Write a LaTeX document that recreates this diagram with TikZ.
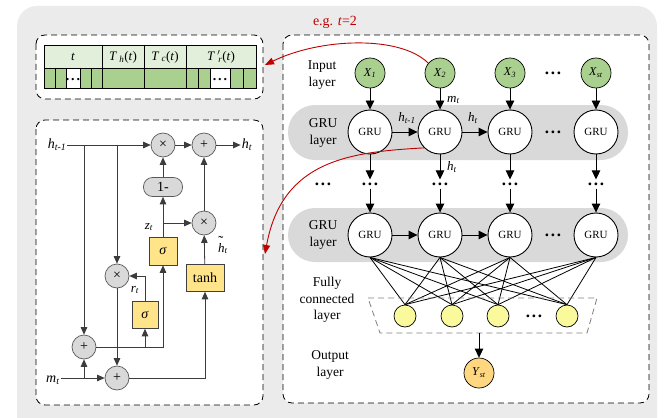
\documentclass[tikz,border=0pt]{standalone}
\usepackage{fontspec}
\setmainfont{Liberation Serif}
\usetikzlibrary{arrows.meta,calc}
\definecolor{bggray}{HTML}{EBEBEB}
\definecolor{bandgray}{HTML}{D9D9D9}
\definecolor{ingreen}{HTML}{A9D08E}
\definecolor{hdrgreen}{HTML}{E2EFDA}
\definecolor{fcyel}{HTML}{FAFA9C}
\definecolor{outor}{HTML}{FFD780}
\definecolor{gateyel}{HTML}{FFE48A}
\definecolor{opfill}{HTML}{D9D9D9}
\definecolor{opgray}{HTML}{5A5A5A}
\definecolor{linegray}{HTML}{3C3C3C}
\definecolor{redc}{HTML}{C00000}
\newcommand\isub[2]{\textit{#1}\textsubscript{\textit{#2}}}
\newcommand\bigdots{\textbf{.\hspace{1.8pt}.\hspace{1.8pt}.}}
\tikzset{
  arr/.style={draw=black, line width=0.9pt, -{Triangle[length=9pt,width=8.5pt]}},
  inc/.style={circle, draw=black, line width=0.7pt, fill=ingreen, minimum size=30pt, inner sep=0pt, font=\fontsize{12}{12}\selectfont},
  gru/.style={circle, draw=black, line width=0.9pt, fill=white, minimum size=44pt, inner sep=0pt, font=\fontsize{11}{11}\selectfont},
  fcn/.style={circle, draw=black, line width=0.7pt, fill=fcyel, minimum size=22pt, inner sep=0pt},
  outn/.style={circle, draw=black, line width=0.7pt, fill=outor, minimum size=30pt, inner sep=0pt, font=\fontsize{12}{12}\selectfont},
  lbl/.style={align=center, font=\fontsize{13.5}{16.5}\selectfont, inner sep=0pt},
  dotsn/.style={inner sep=3pt, font=\fontsize{17}{17}\selectfont},
  band/.style={fill=bandgray, rounded corners=27pt},
  dbox/.style={draw=black, line width=0.8pt, dash pattern=on 6pt off 4pt, fill=white, rounded corners=9pt},
  opn/.style={circle, draw=opgray, fill=opfill, line width=0.7pt, minimum size=24pt, inner sep=0pt, font=\fontsize{14}{14}\selectfont},
  gate/.style={draw=black!75, fill=gateyel, line width=0.6pt, inner sep=0pt, font=\fontsize{14}{14}\selectfont},
  carr/.style={draw=linegray, line width=0.8pt, -{Triangle[length=7.5pt,width=6.5pt]}},
  redarr/.style={draw=redc, line width=0.9pt, -{Triangle[length=9pt,width=7pt]}},
  mlbl/.style={font=\fontsize{13}{13}\selectfont, inner sep=1pt},
  cellt/.style={font=\fontsize{13}{13}\selectfont, inner sep=0pt},
}
\begin{document}
\begin{tikzpicture}[x=1pt,y=-1pt]
\useasboundingbox (0,0) rectangle (668,417);
\begin{scope}
  \clip (0,0) rectangle (668,417);
  \fill[bggray, rounded corners=20pt] (17,6) rectangle (657,440);
\end{scope}

% dashed frames
\draw[dbox] (36,35) rectangle (263,99);
\draw[dbox] (36,120) rectangle (263,405);
\draw[dbox] (283,35) rectangle (649,403);
\coordinate (tabin) at (265,65);
\coordinate (cellin) at (265,254);

% ---------- table ----------
\fill[hdrgreen] (44,45) rectangle (256,68);
\fill[ingreen] (44,68) rectangle (66,88);
\fill[ingreen] (80,68) rectangle (210,88);
\fill[ingreen] (230,68) rectangle (256,88);
\fill[white] (66,68) rectangle (80,88);
\fill[white] (210,68) rectangle (230,88);
\draw[line width=0.8pt] (44,45) rectangle (256,88);
\draw[line width=0.8pt] (44,68) -- (256,68);
\foreach \xx in {102,144,186} \draw[line width=0.8pt] (\xx,45) -- (\xx,88);
\foreach \xx in {55,66,80,91,198,210,230,243} \draw[line width=0.8pt] (\xx,68) -- (\xx,88);
\node[cellt] (ct) at (73,57) {\textit{t}};
\node[cellt] (cth) at (123,57) {\textit{T}\,\textsubscript{\textit{h}}(\textit{t})};
\node[cellt] (ctc) at (165,57) {\textit{T}\,\textsubscript{\textit{c}}(\textit{t})};
\node[cellt] (ctr) at (221,57) {\textit{T}\,$'$\hspace{-2pt}\textsubscript{\textit{r}}(\textit{t})};
\node[dotsn, font=\fontsize{14}{14}\selectfont] (cd1) at (73,80) {\bigdots};
\node[dotsn, font=\fontsize{14}{14}\selectfont] (cd2) at (220,80) {\bigdots};

% ---------- right network ----------
\fill[band] (288,105) rectangle (628,160);
\fill[band] (288,208) rectangle (628,262);

\node[lbl] (linput) at (322,75) {Input\\layer};
\node[lbl] (lgru1) at (323,133) {GRU\\layer};
\node[dotsn] (ldots) at (323,184) {\bigdots};
\node[lbl] (lgru2) at (323,235) {GRU\\layer};
\node[lbl] (lfc) at (327,300) {Fully\\connected\\layer};
\node[lbl] (lout) at (330,365) {Output\\layer};

\node[inc] (x1) at (370,73) {\isub{X}{1}};
\node[inc] (x2) at (440,73) {\isub{X}{2}};
\node[inc] (x3) at (510,73) {\isub{X}{3}};
\node[dotsn] (xd) at (553,73) {\bigdots};
\node[inc] (x4) at (596,73) {\isub{X}{st}};

\node[gru] (g11) at (370,132) {GRU};
\node[gru] (g12) at (440,132) {GRU};
\node[gru] (g13) at (510,132) {GRU};
\node[dotsn] (g1d) at (553,132) {\bigdots};
\node[gru] (g14) at (596,132) {GRU};

\node[dotsn] (d1) at (370,184) {\bigdots};
\node[dotsn] (d2) at (440,184) {\bigdots};
\node[dotsn] (d3) at (510,184) {\bigdots};
\node[dotsn] (d4) at (596,184) {\bigdots};

\node[gru] (g21) at (370,235) {GRU};
\node[gru] (g22) at (440,235) {GRU};
\node[gru] (g23) at (510,235) {GRU};
\node[dotsn] (g2d) at (553,235) {\bigdots};
\node[gru] (g24) at (596,235) {GRU};

\node[fcn] (f1) at (405,316) {};
\node[fcn] (f2) at (452,316) {};
\node[fcn] (f3) at (498,316) {};
\node[dotsn] (fd) at (534,316) {\bigdots};
\node[fcn] (f4) at (567,316) {};

\node[outn] (yst) at (479,373) {\isub{Y}{st}};

\foreach \i in {1,2,3,4} {
  \draw[arr] (x\i) -- (g1\i);
  \draw[arr] (g1\i) -- (d\i);
  \draw[arr] (d\i) -- (g2\i);
}
\draw[arr] (g11) -- (g12);
\draw[arr] (g12) -- (g13);
\draw[arr] (g21) -- (g22);
\draw[arr] (g22) -- (g23);

\foreach \i in {1,2,3,4} \foreach \j in {1,2,3,4}
  \draw[line width=0.8pt] (g2\i.south) -- (f\j.north);

\draw[gray, line width=0.8pt, dash pattern=on 6pt off 4pt] (368,298) -- (597,298) -- (587,333) -- (380,333) -- cycle;
\coordinate (fcbot) at (479,333);
\draw[arr] (fcbot) -- (yst);

\node[mlbl, anchor=west] (lmt) at (446,100) {\isub{m}{t}};
\node[mlbl] (lhp) at (407,118) {\isub{h}{t-1}};
\node[mlbl] (lht1) at (473,118) {\isub{h}{t}};
\node[mlbl, anchor=west] (lht2) at (446,167) {\isub{h}{t}};

% ---------- GRU cell ----------
\node[mlbl, font=\fontsize{14}{14}\selectfont] (hprev) at (57,145) {\isub{h}{t-1}};
\node[opn] (mul1) at (163,145) {×};
\node[opn] (add1) at (204,145) {+};
\node[mlbl, font=\fontsize{14}{14}\selectfont] (ht) at (247,145) {\isub{h}{t}};
\node[draw=opgray, fill=opfill, line width=0.7pt, rounded corners=9pt, minimum width=39pt, minimum height=19pt, inner sep=0pt, font=\fontsize{14}{14}\selectfont] (one) at (163,187) {1-};
\node[gate, minimum width=28pt, minimum height=28pt] (sz) at (163,251) {\textit{σ}};
\node[opn] (mul2) at (204,223) {×};
\node[gate, minimum width=38pt, minimum height=27pt] (tanh) at (205,278) {tanh};
\node[opn] (mul3) at (117,276) {×};
\node[gate, minimum width=26pt, minimum height=27pt] (sr) at (145,315) {\textit{σ}};
\node[opn] (addl) at (84,347) {+};
\node[opn] (addb) at (117,378) {+};
\node[mlbl, font=\fontsize{14}{14}\selectfont] (mt) at (53,380) {\isub{m}{t}};

\node[mlbl] (lz) at (149,227) {\isub{z}{t}};
\node[mlbl] (lr) at (135,290) {\isub{r}{t}};
\node[mlbl] (lhc) at (223,245) {\makebox[0pt][l]{\raisebox{6pt}{\hspace{0.3pt}\fontsize{15}{15}\selectfont\char"02DC}}\textit{h}\textsubscript{\textit{t}}};

\coordinate (b1) at (84,145);
\coordinate (b2) at (117,145);
\coordinate (zj) at (163,223);
\coordinate (rj) at (145,347);
\coordinate (mj) at (84,378);

\draw[carr] (hprev.east) -- (mul1);
\draw[carr] (mul1) -- (add1);
\draw[carr] (add1) -- (ht);
\draw[carr] (one) -- (mul1);
\draw[carr] (sz) -- (one);
\draw[carr] (zj) -- (mul2);
\draw[carr] (tanh) -- (mul2);
\draw[carr] (mul2) -- (add1);
\draw[carr] (b1) -- (addl);
\draw[carr] (b2) -- (mul3);
\draw[carr] (mul3) -- (addb);
\draw[carr] (sr.north) |- (mul3.east);
\draw[carr] (addl.east) -| (sz.south);
\draw[carr] (rj) -- (sr.south);
\draw[carr] (mt.east |- addb.west) -- (addb.west);
\draw[carr] (mj) -- (addl);
\draw[carr] (addb.east) -| (tanh.south);

% ---------- red annotations ----------
\node[font=\fontsize{14}{14}\selectfont, text=redc] (eg) at (335,22) {e.g. \textit{t}=2};
\draw[redarr] (x2.140) .. controls (400,35) and (320,38) .. (tabin);
\draw[redarr] (g12.225) .. controls (350,152) and (282,160) .. (cellin);
\end{tikzpicture}
\end{document}
